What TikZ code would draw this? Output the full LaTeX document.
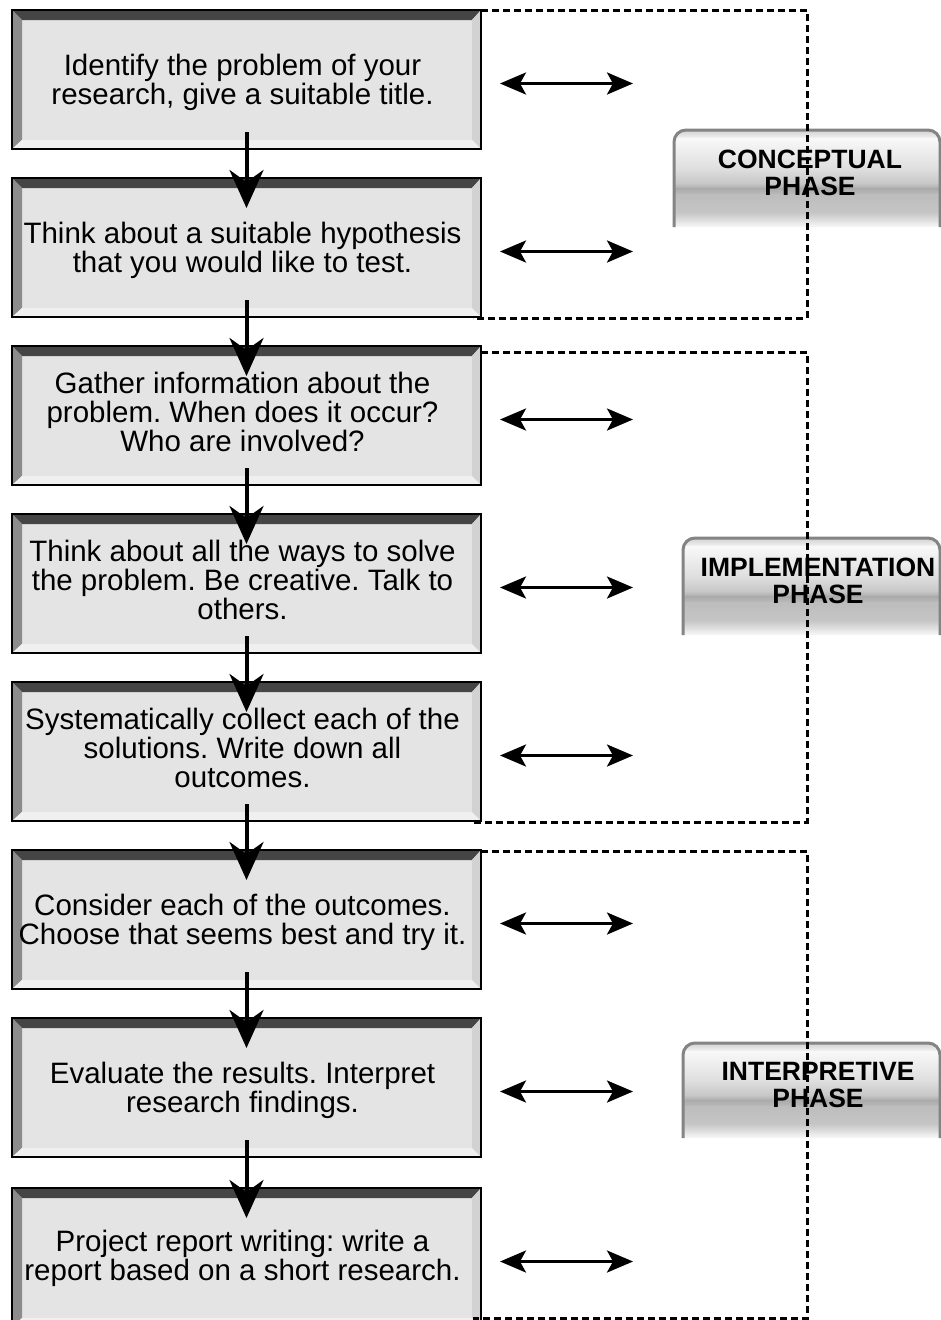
\documentclass[tikz,border=0pt]{standalone}
\usepackage{fontspec}
\setmainfont{Liberation Sans}
\usetikzlibrary{arrows.meta,calc}
\definecolor{boxface}{HTML}{E4E4E4}
\definecolor{bevtopc}{HTML}{454545}
\definecolor{bevleftc}{HTML}{8C8C8C}
\definecolor{bevrightc}{HTML}{D2D2D2}
\definecolor{bevbotc}{HTML}{F0F0F0}
\definecolor{tabborderc}{HTML}{848484}
\definecolor{tA}{HTML}{D0D0D0}
\definecolor{tB}{HTML}{F8F8F8}
\definecolor{tC}{HTML}{DEDEDE}
\definecolor{tD}{HTML}{C6C6C6}
\definecolor{tE}{HTML}{AAAAAA}
\definecolor{tF}{HTML}{BDBDBD}
\definecolor{tG}{HTML}{C6C6C6}
\definecolor{tH}{HTML}{E8E8E8}
\definecolor{tI}{HTML}{FAFAFA}
% #1 left x, #2 top y, #3 right x, #4 bottom y (y grows downwards)
\newcommand\phasetab[4]{%
  \begin{scope}
    \clip (#1,#4) -- (#1,#2+12) arc[start angle=180,end angle=270,radius=12] -- (#3-12,#2) arc[start angle=270,end angle=360,radius=12] -- (#3,#4) -- cycle;
    \foreach \fa/\fb/\ca/\cb in {0/0.09/tA/tB, 0.09/0.40/tB/tC, 0.40/0.55/tC/tD, 0.55/0.60/tD/tE, 0.60/0.67/tE/tF, 0.67/0.85/tF/tG, 0.85/0.95/tG/tH, 0.95/1/tH/tI}{
      \shade[top color=\ca, bottom color=\cb] (#1-2,{#2+\fa*(#4-#2)}) rectangle (#3+2,{#2+\fb*(#4-#2)+0.6});
    }
  \end{scope}
  \draw[tabborder] (#1,#4) -- (#1,#2+12) arc[start angle=180,end angle=270,radius=12] -- (#3-12,#2) arc[start angle=270,end angle=360,radius=12] -- (#3,#4);
}
\begin{document}
\begin{tikzpicture}[x=1pt,y=-1pt,
  stepbox/.style={draw=black, line width=2pt, fill=boxface, minimum width=469pt,
    minimum height=139pt, inner sep=0pt, outer sep=0pt,
    path picture={
      \fill[bevtopc] (path picture bounding box.north west) -- (path picture bounding box.north east)
        -- ([shift={(-9pt,-10pt)}]path picture bounding box.north east)
        -- ([shift={(10pt,-10pt)}]path picture bounding box.north west) -- cycle;
      \fill[bevleftc] (path picture bounding box.north west)
        -- ([shift={(10pt,-10pt)}]path picture bounding box.north west)
        -- ([shift={(10pt,9pt)}]path picture bounding box.south west)
        -- (path picture bounding box.south west) -- cycle;
      \fill[bevrightc] (path picture bounding box.north east)
        -- ([shift={(-9pt,-10pt)}]path picture bounding box.north east)
        -- ([shift={(-9pt,9pt)}]path picture bounding box.south east)
        -- (path picture bounding box.south east) -- cycle;
      \fill[bevbotc] (path picture bounding box.south west)
        -- ([shift={(10pt,9pt)}]path picture bounding box.south west)
        -- ([shift={(-9pt,9pt)}]path picture bounding box.south east)
        -- (path picture bounding box.south east) -- cycle;
    }},
  steptext/.style={align=center, inner sep=0pt, font=\fontsize{29.5}{29}\selectfont\frenchspacing},
  downarrow/.style={line width=4pt, -{Stealth[length=38pt, width=34pt, inset=12pt]}},
  botharrow/.style={line width=3pt, {Stealth[length=26pt, width=22pt, inset=6pt]}-{Stealth[length=26pt, width=22pt, inset=6pt]}},
  groupline/.style={line width=3pt, dash pattern=on 7pt off 4pt},
  tabborder/.style={draw=tabborderc, line width=3pt},
  phasetext/.style={align=center, inner sep=0pt, font=\fontsize{26.5}{27}\selectfont\bfseries}
]
\useasboundingbox (0,0) rectangle (941,1320);
\fill[white] (0,0) rectangle (941,1320);

% phase tabs
\phasetab{674}{130}{940}{227}
\node[phasetext] (p1) at (810,173) {CONCEPTUAL\\PHASE};
\phasetab{683}{538}{940}{635}
\node[phasetext] (p2) at (818,581) {IMPLEMENTATION\\PHASE};
\phasetab{683}{1043}{940}{1138}
\node[phasetext] (p3) at (818,1085) {INTERPRETIVE\\PHASE};

% step boxes
\foreach \i/\y in {1/79.5,2/247.5,3/415.5,4/583.5,5/751.5,6/919.5,7/1087.5,8/1257.5}{
  \node[stepbox] (b\i) at (246.5,\y) {};
}
% box texts
\node[steptext] (t1) at ([xshift=-4pt,yshift=-3pt]b1.center) {Identify the problem of your\\research, give a suitable title.};
\node[steptext] (t2) at ([xshift=-4pt,yshift=-3pt]b2.center) {Think about a suitable hypothesis\\that you would like to test.};
\node[steptext] (t3) at ([xshift=-4pt,yshift=4pt]b3.center) {Gather information about the\\problem. When does it occur?\\Who are involved?};
\node[steptext] (t4) at ([xshift=-4pt,yshift=4pt]b4.center) {Think about all the ways to solve\\the problem. Be creative. Talk to\\others.};
\node[steptext] (t5) at ([xshift=-4pt,yshift=4pt]b5.center) {Systematically collect each of the\\solutions. Write down all\\outcomes.};
\node[steptext] (t6) at ([xshift=-4pt,yshift=-3pt]b6.center) {Consider each of the outcomes.\\Choose that seems best and try it.};
\node[steptext] (t7) at ([xshift=-4pt,yshift=-3pt]b7.center) {Evaluate the results. Interpret\\research findings.};
\node[steptext] (t8) at ([xshift=-4pt,yshift=-1pt]b8.center) {Project report writing: write a\\report based on a short research.};

% group outlines
\coordinate (g3end) at (473,1318.5);
\draw[groupline] (b1.north east) -- (807,10) -- (807,318) -- ([xshift=-8pt,yshift=-1pt]b2.south east);
\draw[groupline] ([yshift=-6pt]b3.north east) -- (807,352) -- (807,822) -- ([xshift=-8pt,yshift=-1pt]b5.south east);
\draw[groupline] ([yshift=-1pt]b6.north east) -- (807,851) -- (807,1318.5) -- (g3end);

% vertical arrows
\foreach \i/\j in {1/2,2/3,3/4,4/5,5/6,6/7,7/8}{
  \draw[downarrow] ([yshift=17pt]b\i.south) -- ([yshift=-30pt]b\j.north);
}

% double arrows
\foreach \i in {1,...,8}{
  \coordinate (la\i) at ($(b\i.east)+(19,4)$);
  \coordinate (ra\i) at ($(b\i.east)+(152,4)$);
  \draw[botharrow] (la\i) -- (ra\i);
}
\end{tikzpicture}
\end{document}
